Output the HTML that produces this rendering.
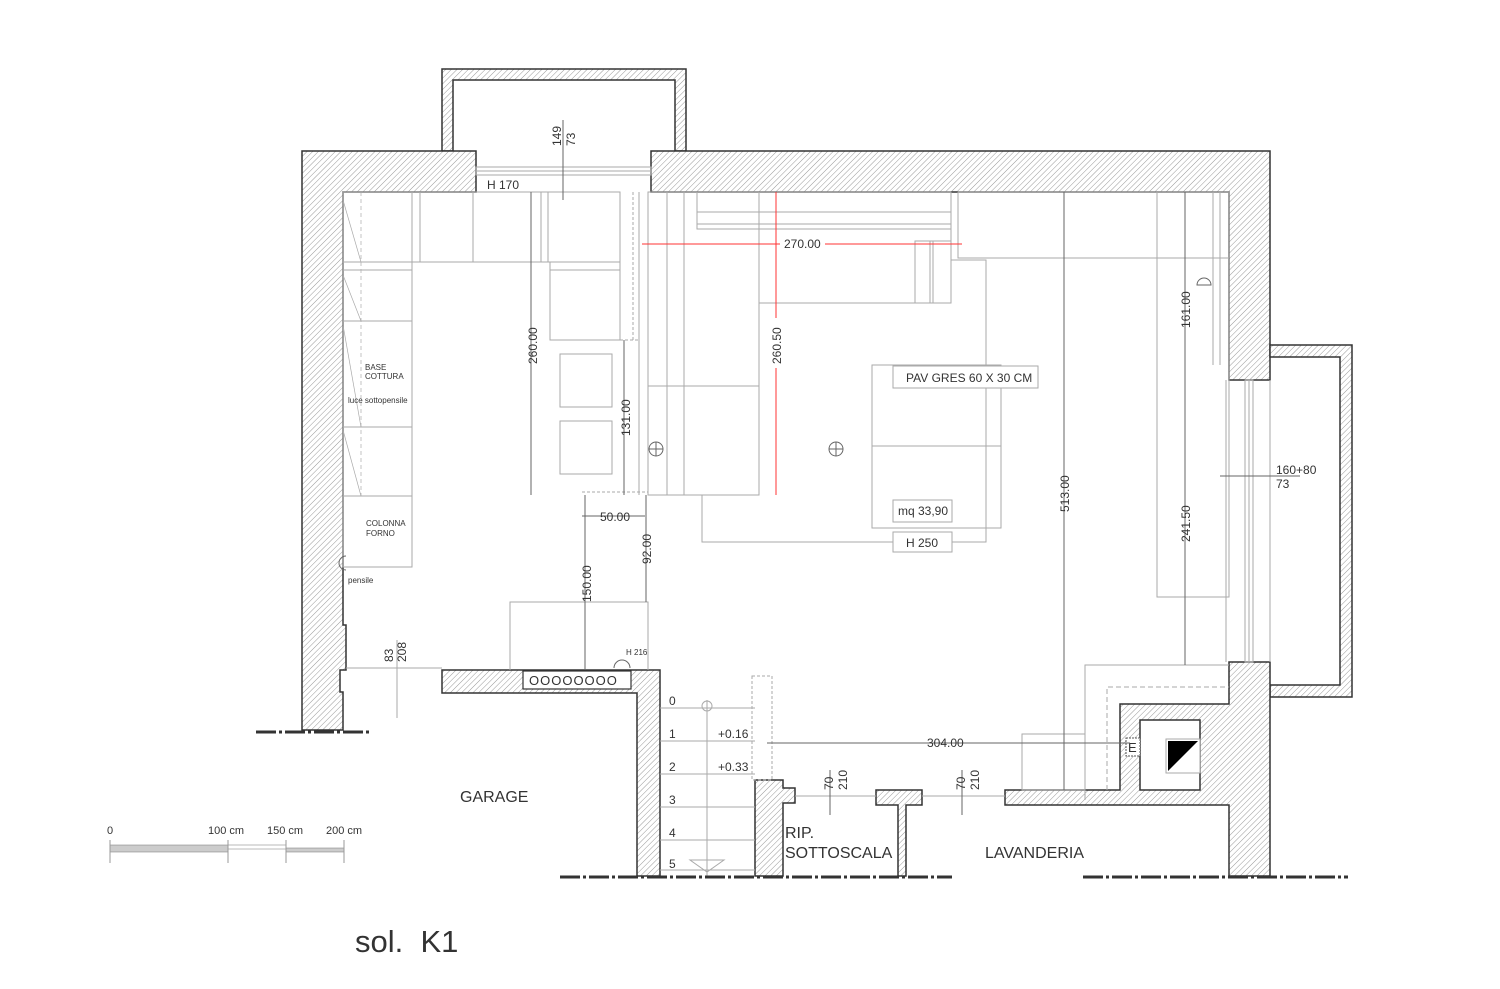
<!DOCTYPE html>
<html><head><meta charset="utf-8"><style>
html,body{margin:0;padding:0;background:#fff;width:1500px;height:989px;overflow:hidden}
svg{display:block}
text{font-family:"Liberation Sans",sans-serif;fill:#333}
</style></head><body>
<svg width="1500" height="989" viewBox="0 0 1500 989" xmlns="http://www.w3.org/2000/svg">
<defs>
<pattern id="h" width="4" height="4" patternUnits="userSpaceOnUse" patternTransform="rotate(45)">
<rect width="4" height="4" fill="#fff"/><line x1="0" y1="0" x2="0" y2="4" stroke="#999" stroke-width="1"/>
</pattern>
</defs>
<g stroke="#333" stroke-width="1.5" fill="url(#h)">
<path d="M442,69 H686 V151 H675 V80 H453 V151 H442 Z"/>
<path d="M302,151 H476 V192 H343 V625 H346 V670 H340 V692 H343 V730 H302 Z"/>
<path d="M651,151 H1270 V380 H1229 V192 H651 Z"/>
<path d="M1270,345 H1352 V697 H1270 V685 H1340 V357 H1270 Z"/>
<path d="M1229,662 H1270 V876 H1229 V805 H1005 V790 H1120 V704 H1229 Z"/>
<path d="M442,670 H660 V876 H637 V693 H442 Z"/>
<path d="M755,780 H783 V788 H795 V803 H783 V876 H755 Z"/>
<path d="M876,790 H922 V805 H906 V876 H898 V805 H876 Z"/>
</g>
<rect x="1140" y="720" width="60" height="70" fill="#fff" stroke="#333" stroke-width="1.5"/>
<rect x="1166" y="739" width="34" height="34" fill="#fff" stroke="#aaa" stroke-width="1"/>
<path d="M1168,741 H1198 L1168,771 Z" fill="#000"/>
<rect x="1126" y="738" width="14" height="18" fill="#fff" stroke="#555" stroke-dasharray="2,1"/>
<text x="1128" y="752" font-size="13">E</text>
<rect x="523" y="671" width="108" height="18" fill="#fff" stroke="#333" stroke-width="1.2"/>
<text x="529" y="685" font-size="13" letter-spacing="1">OOOOOOOO</text>

<g stroke="#aaa" stroke-width="1" fill="none">
<rect x="476" y="167" width="175" height="8"/><line x1="476" y1="171" x2="651" y2="171"/>
<rect x="1245" y="380" width="8" height="282"/><line x1="1249" y1="380" x2="1249" y2="662"/>
<line x1="1270" y1="380" x2="1270" y2="662"/><line x1="1226" y1="380" x2="1226" y2="662"/>
<rect x="343" y="192" width="69" height="375"/>
<line x1="343" y1="262" x2="412" y2="262"/><line x1="343" y1="270" x2="412" y2="270"/>
<line x1="343" y1="321" x2="412" y2="321"/><line x1="343" y1="427" x2="412" y2="427"/>
<line x1="343" y1="496" x2="412" y2="496"/>
<line x1="361" y1="192" x2="361" y2="496" stroke-dasharray="4,3" stroke-width="0.7"/>
<line x1="343" y1="200" x2="361" y2="262" stroke-width="0.7"/><line x1="343" y1="275" x2="361" y2="321" stroke-width="0.7"/>
<line x1="343" y1="325" x2="361" y2="427" stroke-width="0.7"/><line x1="343" y1="430" x2="361" y2="496" stroke-width="0.7"/>
<rect x="412" y="192" width="208" height="70"/>
<line x1="420" y1="192" x2="420" y2="262"/><line x1="473" y1="192" x2="473" y2="262"/>
<line x1="541" y1="192" x2="541" y2="262"/><line x1="548" y1="192" x2="548" y2="262"/>
<rect x="550" y="262" width="70" height="78"/><line x1="550" y1="270" x2="620" y2="270"/>
<line x1="633" y1="192" x2="633" y2="340" stroke-dasharray="3,2"/><line x1="620" y1="340" x2="640" y2="340" stroke-dasharray="3,2"/>
<line x1="639" y1="192" x2="639" y2="495"/>
<rect x="560" y="354" width="52" height="53"/><rect x="560" y="421" width="52" height="53"/>
<line x1="582" y1="492" x2="648" y2="492" stroke-dasharray="3,2"/>
<rect x="648" y="192" width="111" height="303"/>
<line x1="667" y1="192" x2="667" y2="495"/><line x1="684" y1="192" x2="684" y2="495"/>
<line x1="648" y1="386" x2="759" y2="386"/>
<rect x="697" y="192" width="254" height="37"/><line x1="697" y1="212" x2="951" y2="212"/><line x1="697" y1="224" x2="951" y2="224"/>
<rect x="759" y="192" width="192" height="111"/>
<rect x="915" y="241" width="36" height="62"/><line x1="930" y1="241" x2="930" y2="303"/><line x1="933" y1="241" x2="933" y2="303"/>
<polyline points="951,260 986,260 986,542 702,542 702,495"/>
<rect x="958" y="192" width="271" height="66"/>
<rect x="872" y="365" width="129" height="163"/><line x1="872" y1="446" x2="1001" y2="446"/>
<rect x="1157" y="192" width="72" height="405"/>
<line x1="1213" y1="192" x2="1213" y2="365"/><line x1="1220" y1="192" x2="1220" y2="365"/>
<polyline points="1085,800 1085,665 1229,665"/>
<polyline points="1107,790 1107,687 1229,687" stroke-dasharray="5,3"/>
<rect x="1022" y="734" width="63" height="56"/>
<polyline points="510,670 510,602 648,602 648,670"/>
<line x1="660" y1="708" x2="755" y2="708"/><line x1="660" y1="741" x2="755" y2="741"/>
<line x1="660" y1="774" x2="755" y2="774"/><line x1="660" y1="807" x2="755" y2="807"/>
<line x1="660" y1="840" x2="755" y2="840"/><line x1="660" y1="870" x2="755" y2="870"/>
<line x1="707" y1="700" x2="707" y2="876"/>
<rect x="752" y="676" width="20" height="104" stroke-dasharray="3,2"/>
<path d="M690,860 L724,860 L707,872 Z"/>
<circle cx="707" cy="706" r="5"/>
<line x1="795" y1="796" x2="876" y2="796"/><line x1="922" y1="796" x2="1005" y2="796"/>
<line x1="346" y1="668" x2="442" y2="668"/>
<line x1="397" y1="640" x2="397" y2="718"/>
</g>
<g stroke="#666" stroke-width="1" fill="none">
<line x1="531" y1="192" x2="531" y2="495"/><line x1="624" y1="340" x2="624" y2="495"/>
<line x1="582" y1="516" x2="645" y2="516"/><line x1="646" y1="495" x2="646" y2="602"/>
<line x1="585" y1="495" x2="585" y2="670"/>
<line x1="1064" y1="192" x2="1064" y2="790"/>
<line x1="1185" y1="192" x2="1185" y2="665"/>
<line x1="767" y1="743" x2="1130" y2="743"/>
<line x1="563" y1="120" x2="563" y2="200"/>
<line x1="1220" y1="476" x2="1300" y2="476"/>
<line x1="830" y1="770" x2="830" y2="815"/><line x1="962" y1="770" x2="962" y2="815"/>
<circle cx="656" cy="449" r="7"/><line x1="649" y1="449" x2="663" y2="449"/><line x1="656" y1="442" x2="656" y2="456"/>
<circle cx="836" cy="449" r="7"/><line x1="829" y1="449" x2="843" y2="449"/><line x1="836" y1="442" x2="836" y2="456"/>
<path d="M1197,285 A7,7 0 0 1 1211,285 Z"/><path d="M346,570 A7,7 0 0 1 346,556"/><path d="M614,668 A8,8 0 0 1 630,668"/>
</g>
<g stroke="#f33" stroke-width="1" fill="none">
<line x1="642" y1="244" x2="780" y2="244"/><line x1="825" y1="244" x2="962" y2="244"/>
<line x1="776" y1="192" x2="776" y2="318"/><line x1="776" y1="368" x2="776" y2="495"/>
</g>
<g stroke="#333" stroke-width="3" stroke-dasharray="20,3,3,3">
<line x1="256" y1="732" x2="372" y2="732"/>
<line x1="560" y1="877" x2="952" y2="877"/>
<line x1="1083" y1="877" x2="1348" y2="877"/>
</g>
<rect x="110" y="845" width="118" height="7" fill="#ccc" stroke="#777" stroke-width="0.5"/>
<rect x="228" y="845" width="58" height="4" fill="#fff" stroke="#777" stroke-width="0.5"/>
<rect x="286" y="848" width="58" height="4" fill="#ccc" stroke="#777" stroke-width="0.5"/>
<g stroke="#999"><line x1="110" y1="840" x2="110" y2="863"/><line x1="228" y1="840" x2="228" y2="863"/><line x1="286" y1="840" x2="286" y2="863"/><line x1="344" y1="840" x2="344" y2="863"/></g>
<g font-size="11"><text x="107" y="834">0</text><text x="208" y="834">100 cm</text><text x="267" y="834">150 cm</text><text x="326" y="834">200 cm</text></g>
<text x="355" y="952" font-size="31" fill="#111" xml:space="preserve" style="white-space:pre;font-weight:300">sol.  K1</text>
<g font-size="12">
<text x="487" y="189">H 170</text>
<text transform="translate(561,146) rotate(-90)">149</text>
<text transform="translate(575,146) rotate(-90)">73</text>
<text x="784" y="248" fill="#f33">270.00</text>
<text transform="translate(781,364) rotate(-90)" fill="#f33">260.50</text>
<text transform="translate(537,364) rotate(-90)">260.00</text>
<text transform="translate(630,436) rotate(-90)">131.00</text>
<text x="600" y="521">50.00</text>
<text transform="translate(651,564) rotate(-90)">92.00</text>
<text transform="translate(591,602) rotate(-90)">150.00</text>
<text transform="translate(1069,512) rotate(-90)">513.00</text>
<text transform="translate(1190,328) rotate(-90)">161.00</text>
<text transform="translate(1190,542) rotate(-90)">241.50</text>
<text x="1276" y="474">160+80</text><text x="1276" y="488">73</text>
<text x="927" y="747">304.00</text>
<text transform="translate(393,662) rotate(-90)">83</text><text transform="translate(406,662) rotate(-90)">208</text>
<text transform="translate(833,790) rotate(-90)">70</text><text transform="translate(847,790) rotate(-90)">210</text>
<text transform="translate(965,790) rotate(-90)">70</text><text transform="translate(979,790) rotate(-90)">210</text>
<text x="669" y="705">0</text><text x="669" y="738">1</text><text x="669" y="771">2</text><text x="669" y="804">3</text><text x="669" y="837">4</text><text x="669" y="868">5</text>
<text x="718" y="738">+0.16</text><text x="718" y="771">+0.33</text>
</g>
<g font-size="8"><text x="365" y="370">BASE</text><text x="365" y="379">COTTURA</text><text x="348" y="403">luce sottopensile</text>
<text x="366" y="526">COLONNA</text><text x="366" y="536">FORNO</text><text x="348" y="583">pensile</text><text x="626" y="655">H 216</text></g>
<g fill="#fff" stroke="#aaa"><rect x="893" y="366" width="145" height="22"/><rect x="893" y="500" width="59" height="22"/><rect x="893" y="532" width="59" height="20"/></g>
<g font-size="12"><text x="906" y="382">PAV GRES 60 X 30 CM</text><text x="898" y="515">mq 33,90</text><text x="906" y="547">H 250</text></g>
<g font-size="16"><text x="460" y="802">GARAGE</text><text x="785" y="838">RIP.</text><text x="785" y="858">SOTTOSCALA</text><text x="985" y="858">LAVANDERIA</text></g>
</svg>
</body></html>
